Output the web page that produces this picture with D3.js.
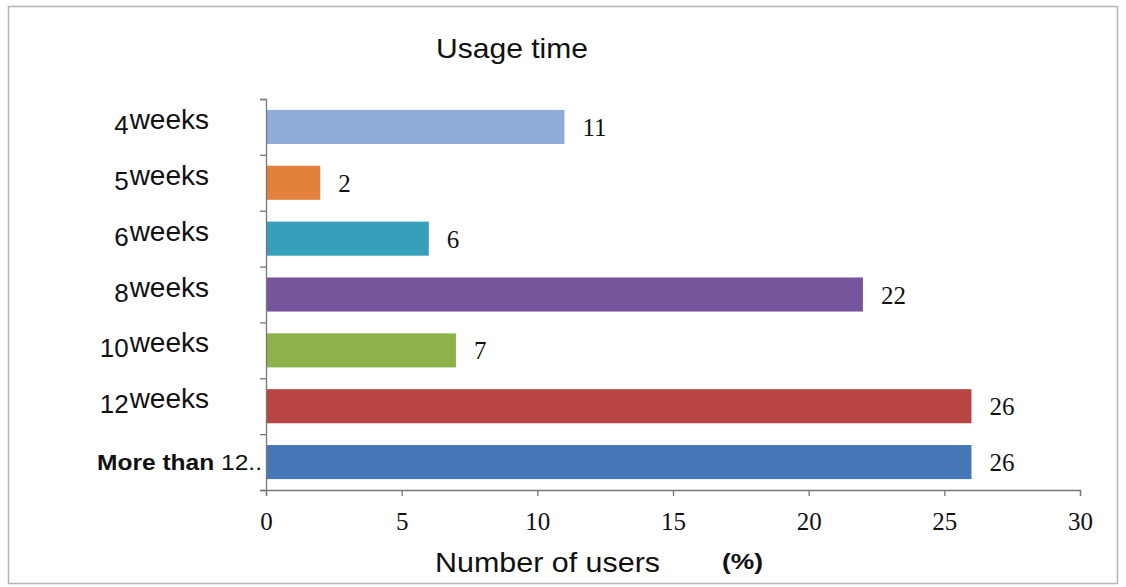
<!DOCTYPE html>
<html>
<head>
<meta charset="utf-8">
<script src="https://cdn.jsdelivr.net/npm/d3@7"></script>
<style>
   body { margin: 0; background: #fff; }
   svg { display: block; }
</style>
</head>
<body>
<div id="chart"></div>
<script>
// data
const weekNumbers = ["4", "5", "6", "8", "10", "12", "More than 12"]
const userShare = [11, 2, 6, 22, 7, 26, 26]
const barColors = ["#92acd8", "#e2813b", "#36a0ba", "#76559c", "#8db14b", "#b94542", "#4677b6"]
const xTicks = [0, 5, 10, 15, 20, 25, 30]

const width = 1126
const height = 587
const margin = { left: 266, right: 46, top: 99, bottom: 97 }
const sans = "Liberation Sans, Arial, sans-serif"
const serif = "Liberation Serif, Times New Roman, serif"

const svg = d3.select("#chart").append("svg")
   .attr("width", width)
   .attr("height", height)

// outer frame
svg.append("rect")
   .attr("x", 8.5).attr("y", 6.5)
   .attr("width", 1109).attr("height", 577)
   .attr("fill", "none")
   .attr("stroke", "#b5b5b5")
   .attr("stroke-width", 1.5)

const x = d3.scaleLinear()
   .domain([0, 30])
   .range([margin.left, width - margin.right])

const y = d3.scaleBand()
   .domain(weekNumbers)
   .range([margin.top, height - margin.bottom])
   .paddingInner(0.39)
   .paddingOuter(0.195)

// bars
svg.append("g").selectAll("rect")
   .data(weekNumbers)
   .join("rect")
   .attr("x", x(0) + 1)
   .attr("y", d => y(d))
   .attr("width", (d, i) => x(userShare[i]) - x(0) - 1)
   .attr("height", y.bandwidth())
   .attr("fill", (d, i) => barColors[i])

// value labels
svg.append("g").selectAll("text")
   .data(weekNumbers)
   .join("text")
   .attr("x", (d, i) => x(userShare[i]) + 18)
   .attr("y", d => y(d) + y.bandwidth() / 2 + 9)
   .attr("font-family", serif)
   .attr("font-size", 25)
   .attr("fill", "#111")
   .text((d, i) => userShare[i])

// x axis
const xAxis = svg.append("g")
   .attr("transform", `translate(0,${height - margin.bottom})`)
   .call(d3.axisBottom(x).tickValues(xTicks).tickSize(6).tickPadding(16))
xAxis.select(".domain").attr("stroke", "#777").attr("stroke-width", 1.3)
xAxis.selectAll(".tick line").attr("stroke", "#777").attr("stroke-width", 1.3)
xAxis.selectAll(".tick text")
   .attr("font-family", serif)
   .attr("font-size", 25)
   .attr("fill", "#111")

// y axis: boundaries between bands
const yScaleEdges = d3.scaleLinear().domain([0, weekNumbers.length]).range(y.range())
const yAxis = svg.append("g")
   .attr("transform", `translate(${margin.left},0)`)
   .call(d3.axisLeft(yScaleEdges).ticks(weekNumbers.length).tickSize(6).tickFormat(""))
yAxis.select(".domain").attr("stroke", "#777").attr("stroke-width", 1.3)
yAxis.selectAll(".tick line").attr("stroke", "#777").attr("stroke-width", 1.3)

// category labels
const labels = svg.append("g").selectAll("text")
   .data(weekNumbers)
   .join("text")
   .attr("text-anchor", "end")
   .attr("font-family", sans)
   .attr("fill", "#111")

labels.filter(d => d !== "More than 12")
   .attr("x", 209)
   .attr("y", d => y(d) + y.bandwidth() / 2 + 2)
   .each(function (d) {
      const t = d3.select(this)
      t.append("tspan").attr("font-size", 26).attr("dy", 5).text(d)
      t.append("tspan").attr("font-size", 28).attr("dy", -5).attr("dx", 1).text("weeks")
   })

labels.filter(d => d === "More than 12")
   .attr("x", 97)
   .attr("text-anchor", "start")
   .attr("y", d => y(d) + y.bandwidth() / 2 + 8)
   .attr("font-size", 22)
   .attr("textLength", 165)
   .attr("lengthAdjust", "spacingAndGlyphs")
   .each(function (d) {
      const t = d3.select(this)
      t.append("tspan").attr("font-weight", "bold").text("More than ")
      t.append("tspan").attr("font-weight", "normal").text("12..")
   })

// titles
svg.append("text")
   .attr("x", 436).attr("y", 58)
   .attr("font-family", sans)
   .attr("font-size", 28)
   .attr("textLength", 152)
   .attr("lengthAdjust", "spacingAndGlyphs")
   .attr("fill", "#111")
   .text("Usage time")

svg.append("text")
   .attr("x", 435).attr("y", 572)
   .attr("font-family", sans)
   .attr("font-size", 28)
   .attr("textLength", 225)
   .attr("lengthAdjust", "spacingAndGlyphs")
   .attr("fill", "#111")
   .text("Number of users")

svg.append("text")
   .attr("x", 722).attr("y", 569)
   .attr("font-family", sans)
   .attr("font-size", 22)
   .attr("font-weight", "bold")
   .attr("textLength", 41)
   .attr("lengthAdjust", "spacingAndGlyphs")
   .attr("fill", "#111")
   .text("(%)")
</script>
</body>
</html>
